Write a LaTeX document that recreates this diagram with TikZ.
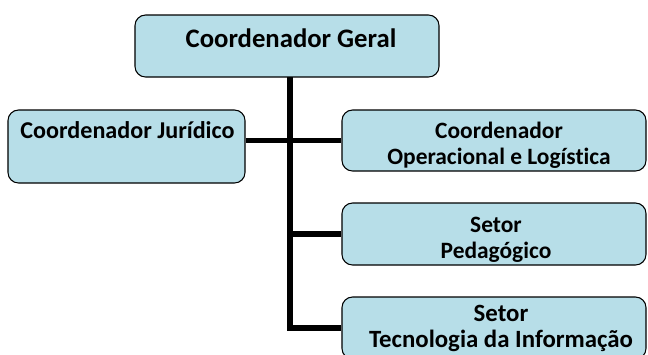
\documentclass[tikz,border=0pt]{standalone}
\usepackage{fontspec}
\setmainfont{Carlito}[Ligatures={NoCommon,NoRare}]
\usetikzlibrary{positioning}
\definecolor{azulcaixa}{RGB}{183,222,232}
\newcommand{\tronco}{5pt}
\newcommand{\borda}{0.9pt}
\tikzset{
  caixa/.style={draw=black, line width=\borda, fill=azulcaixa, rounded corners=9pt, inner sep=0pt},
  rotulo/.style={font=\bfseries\fontsize{#1}{22.1}\selectfont, align=center, inner sep=0pt, anchor=base},
  rotulo/.default=20,
  ligacao/.style={line width=\tronco}
}

\begin{document}
\begin{tikzpicture}[x=0.03cm,y=-0.03cm]
  %\draw[help lines] (0,0) grid (648,354);
  \clip (0,0) rectangle (648,354);
  % caixas
  \node[caixa, minimum width=9.12cm, minimum height=1.86cm] (geral) at (287,46) {};
  \node[caixa, minimum width=7.11cm, minimum height=2.19cm] (juridico) at (126.5,146.5) {};
  \node[caixa, minimum width=9.12cm, minimum height=1.83cm] (operacional) at (494,140.5) {};
  \node[caixa, minimum width=9.12cm, minimum height=1.86cm] (pedagogico) at (494,234) {};
  \node[caixa, minimum width=9.12cm, minimum height=1.86cm] (ti) at (494,328) {};
  % textos (base = ultima linha)
  \node[rotulo=22.8] (tgeral) at (291,47) {Coordenador Geral};
  \node[rotulo=20.6] (tjuridico) at (127.5,138) {Coordenador Jurídico};
  \node[rotulo] (toperacional) at (499,164) {Coordenador\\Operacional e Logística};
  \node[rotulo] (tpedagogico) at (496,258) {Setor\\Pedagógico};
  \node[rotulo=21.2] (tti) at (501,347) {Setor\\Tecnologia da Informação};
  % ligacoes
  \coordinate (eixo) at (290,77);
  \draw[ligacao] (eixo) |- (ti.west);
  \draw[ligacao] (eixo |- pedagogico.west) -- (pedagogico.west);
  \draw[ligacao] (juridico.east |- operacional.west) -- (operacional.west);
\end{tikzpicture}
\end{document}
